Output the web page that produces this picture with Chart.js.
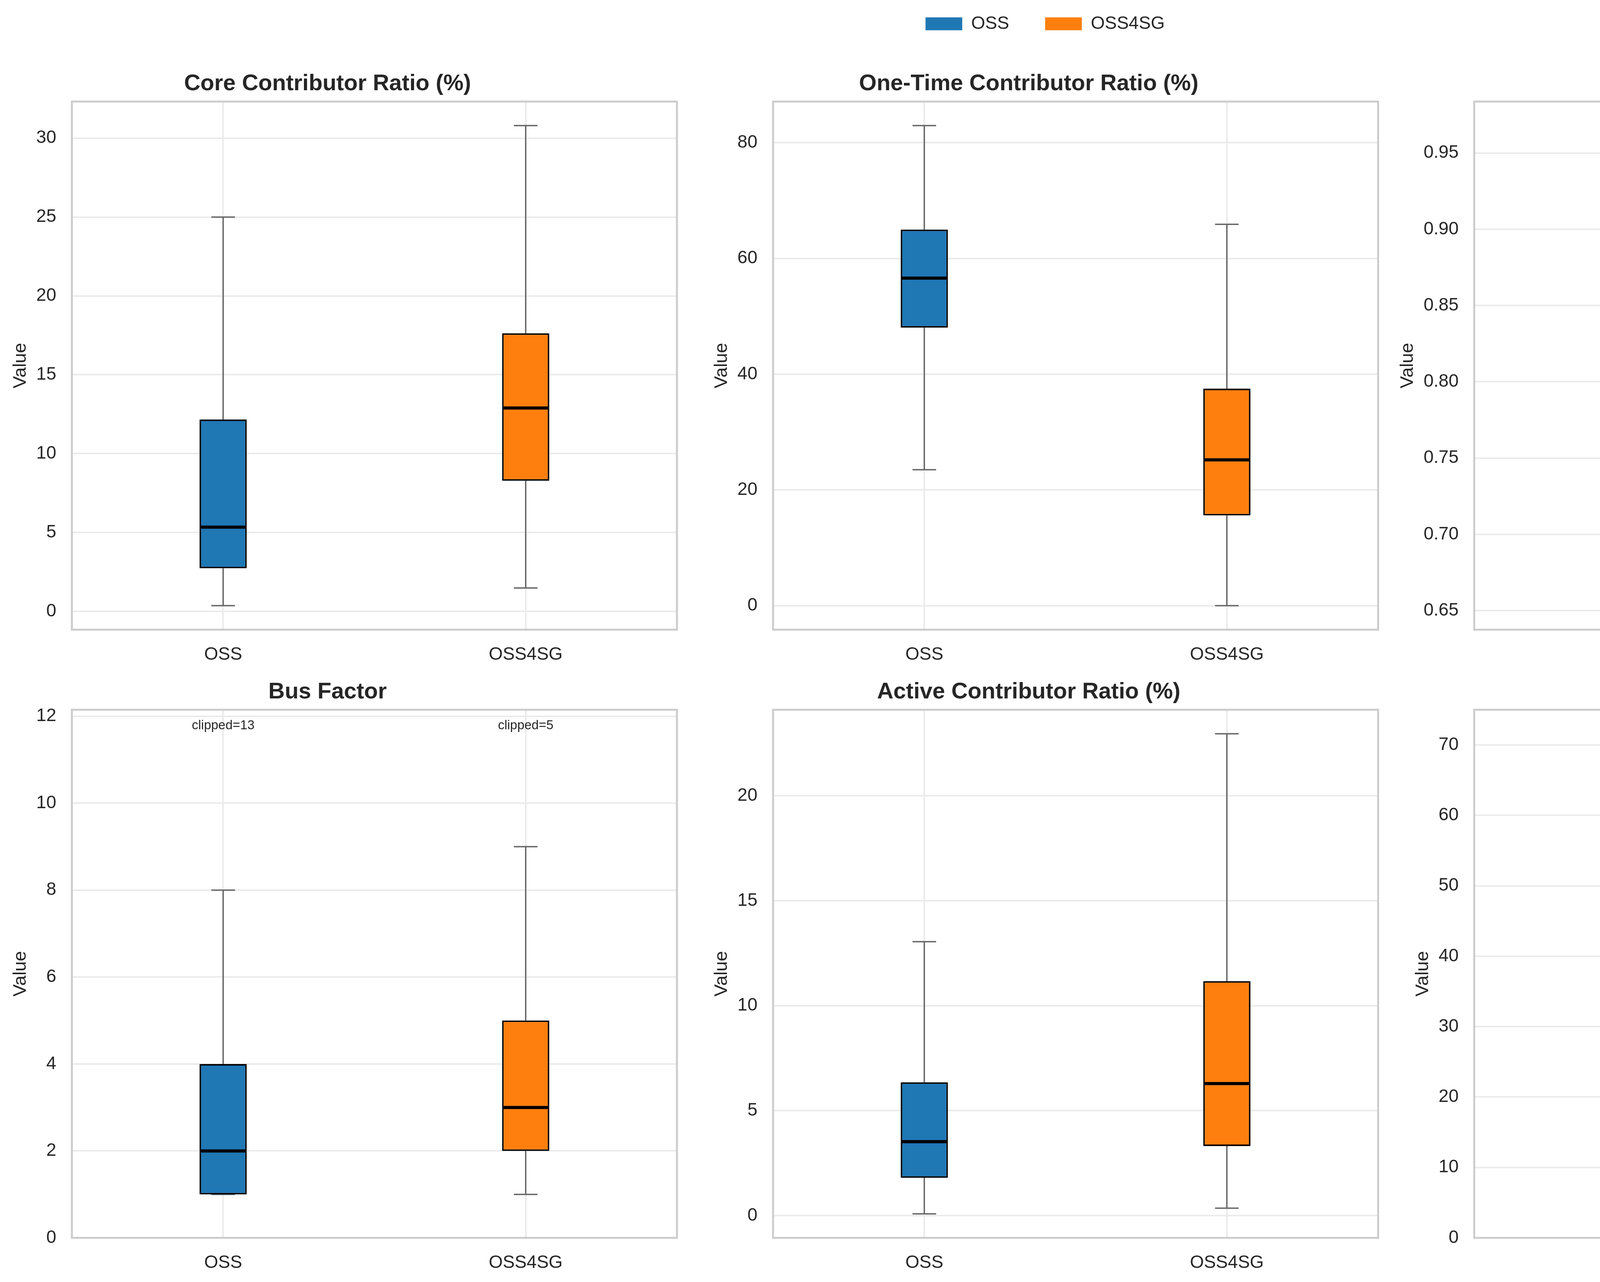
<!DOCTYPE html>
<html>
<head>
<meta charset="utf-8">
<script src="https://cdn.jsdelivr.net/npm/chart.js@4.4.1/dist/chart.umd.min.js"></script>
<style>
body{margin:0;background:#fff;width:5351px;height:3282px;overflow:hidden;position:relative;}
canvas{position:absolute;}
</style>
</head>
<body>
<script>
// groups and panels
const groups = ['OSS', 'OSS4SG'];
const groupColors = ['#1f77b4', '#ff7f0e'];
const metricTitles = ['Core Contributor Ratio (%)', 'One-Time Contributor Ratio (%)', 'Gini Coefficient',
  'Bus Factor', 'Active Contributor Ratio (%)', 'Transition Rate (%)'];

// OSS box stats (one value per panel)
const ossLow    = [0.36, 23.5, 0.7006, 1, 0.08, 0];
const ossQ1     = [2.73, 48.05, 0.8234, 1, 1.80, 3.29];
const ossMedian = [5.34, 56.6, 0.8784, 2, 3.52, 8.37];
const ossQ3     = [12.16, 65.0, 0.9128, 4, 6.35, 16.7];
const ossHigh   = [25.0, 82.97, 0.968, 8, 13.05, 36.5];

// OSS4SG box stats
const sgLow    = [1.48, 0, 0.6532, 1, 0.35, 0];
const sgQ1     = [8.28, 15.6, 0.7819, 2, 3.31, 5.94];
const sgMedian = [12.89, 25.2, 0.8323, 3, 6.29, 12.5];
const sgQ3     = [17.63, 37.5, 0.8843, 5, 11.17, 25.0];
const sgHigh   = [30.8, 65.9, 0.9643, 9, 22.96, 53.6];

// y ticks
const tickSteps = [5, 20, 0.05, 2, 5, 10];
const tickDecimals = [0, 0, 2, 0, 0, 0];
const yFixed = [null, null, null, [0, 12.15], null, [0, 75]];

// bus factor outliers above the axis
const busClipped = [13, 5];

const TEXT = '#262626';
Chart.defaults.font.family = "'Liberation Sans', Arial, sans-serif";
Chart.defaults.color = TEXT;

// layout of the grid
const colLeft = [184, 1979, 3774];
const rowTop = [260, 1817];
const AREA_W = 1549, AREA_H = 1352;
const AXIS_W = 240, TITLE_H = 90, XAXIS_H = 110, PAD_R = 20;
const Y_TICK_PAD = 40;

function statsFor(i){
  return [
    {low: ossLow[i], q1: ossQ1[i], med: ossMedian[i], q3: ossQ3[i], high: ossHigh[i]},
    {low: sgLow[i], q1: sgQ1[i], med: sgMedian[i], q3: sgQ3[i], high: sgHigh[i]}
  ];
}

function line(ctx, x1, y1, x2, y2){
  ctx.beginPath();
  ctx.moveTo(x1, y1);
  ctx.lineTo(x2, y2);
  ctx.stroke();
}

function boxPlugin(i){
  const stats = statsFor(i);
  return {
    id: 'box' + i,
    afterLayout(chart){
      // plot area stays fixed, "Value" sits next to the tick labels
      const y = chart.scales.y;
      y.left = y.right - (y._natW - Y_TICK_PAD);
    },
    beforeDatasetsDraw(chart){
      const ctx = chart.ctx, x = chart.scales.x, y = chart.scales.y;
      const bars = chart.getDatasetMeta(0).data;
      ctx.save();
      ctx.strokeStyle = '#666666';
      ctx.lineWidth = 3.5;
      stats.forEach((s, j) => {
        const cx = x.getPixelForValue(j);
        const half = bars[j].width / 4;
        const yl = y.getPixelForValue(s.low), yh = y.getPixelForValue(s.high);
        line(ctx, cx, yl, cx, y.getPixelForValue(s.q1));
        line(ctx, cx, y.getPixelForValue(s.q3), cx, yh);
        line(ctx, cx - half, yl, cx + half, yl);
        line(ctx, cx - half, yh, cx + half, yh);
      });
      ctx.restore();
    },
    afterDatasetsDraw(chart){
      const ctx = chart.ctx, x = chart.scales.x, y = chart.scales.y;
      const bars = chart.getDatasetMeta(0).data;
      ctx.save();
      ctx.strokeStyle = '#000';
      ctx.lineWidth = 8;
      stats.forEach((s, j) => {
        const cx = x.getPixelForValue(j);
        const w = bars[j].width / 2 - 2;
        const ym = y.getPixelForValue(s.med);
        line(ctx, cx - w, ym, cx + w, ym);
      });
      if (i === 3) {
        ctx.fillStyle = TEXT;
        ctx.font = "33px 'Liberation Sans', Arial, sans-serif";
        ctx.textAlign = 'center';
        ctx.textBaseline = 'middle';
        busClipped.forEach((c, j) => {
          ctx.fillText('clipped=' + c, x.getPixelForValue(j), y.getPixelForValue(y.max * 0.97));
        });
      }
      const a = chart.chartArea;
      ctx.strokeStyle = '#cccccc';
      ctx.lineWidth = 5;
      ctx.strokeRect(a.left, a.top, a.right - a.left, a.bottom - a.top);
      ctx.restore();
    }
  };
}

function yRange(i){
  if (yFixed[i]) return yFixed[i];
  const lo = Math.min(ossLow[i], sgLow[i]);
  const hi = Math.max(ossHigh[i], sgHigh[i]);
  const m = (hi - lo) * 0.05;
  return [lo - m, hi + m];
}

function makeCanvas(left, top, w, h){
  const c = document.createElement('canvas');
  c.width = w; c.height = h;
  c.style.left = left + 'px';
  c.style.top = top + 'px';
  c.style.width = w + 'px';
  c.style.height = h + 'px';
  document.body.appendChild(c);
  return c;
}

metricTitles.forEach((title, i) => {
  const L = colLeft[i % 3], T = rowTop[Math.floor(i / 3)];
  const canvas = makeCanvas(L - AXIS_W, T - TITLE_H, AXIS_W + AREA_W + PAD_R, TITLE_H + AREA_H + XAXIS_H);
  const stats = statsFor(i);
  const range = yRange(i);
  new Chart(canvas, {
    type: 'bar',
    data: {
      labels: groups,
      datasets: [{
        data: stats.map(s => [s.q1, s.q3]),
        backgroundColor: groupColors,
        borderColor: '#000',
        borderWidth: 4,
        borderSkipped: false,
        barPercentage: 0.156,
        categoryPercentage: 1
      }]
    },
    options: {
      responsive: false,
      animation: false,
      devicePixelRatio: 1,
      layout: {padding: {left: 0, right: PAD_R, top: 0, bottom: 0}},
      plugins: {
        legend: {display: false},
        tooltip: {enabled: false},
        title: {
          display: true,
          text: title,
          color: TEXT,
          font: {size: 58, weight: 'bold', lineHeight: 1.2},
          padding: {top: 10, bottom: 10.4}
        }
      },
      scales: {
        x: {
          offset: true,
          afterFit(scale){ scale.height = XAXIS_H; },
          grid: {color: '#ebebeb', lineWidth: 4, offset: false, drawTicks: false},
          border: {display: false},
          ticks: {color: TEXT, font: {size: 46}, padding: 37}
        },
        y: {
          min: range[0],
          max: range[1],
          afterFit(scale){ scale._natW = scale.width; scale.width = AXIS_W; },
          grid: {color: '#ebebeb', lineWidth: 4, drawTicks: false},
          border: {display: false},
          ticks: {
            color: TEXT,
            font: {size: 46},
            padding: Y_TICK_PAD,
            stepSize: tickSteps[i],
            includeBounds: false,
            callback: v => Number(v).toFixed(tickDecimals[i])
          },
          title: {display: true, text: 'Value', color: TEXT, font: {size: 47, lineHeight: 1.2}, padding: {top: 0, bottom: 12}}
        }
      }
    },
    plugins: [boxPlugin(i)]
  });
});

// figure legend across the top
const legendCanvas = makeCanvas(0, -54, 5351, 600);
new Chart(legendCanvas, {
  type: 'bar',
  data: {
    labels: [],
    datasets: groups.map((g, j) => ({label: g, data: [], backgroundColor: groupColors[j], borderWidth: 0}))
  },
  options: {
    responsive: false,
    animation: false,
    devicePixelRatio: 1,
    scales: {x: {display: false}, y: {display: false}},
    plugins: {
      tooltip: {enabled: false},
      legend: {
        display: true,
        position: 'top',
        labels: {boxWidth: 94, boxHeight: 33, padding: 92, color: TEXT, font: {size: 46}}
      }
    }
  }
});
</script>
</body>
</html>
